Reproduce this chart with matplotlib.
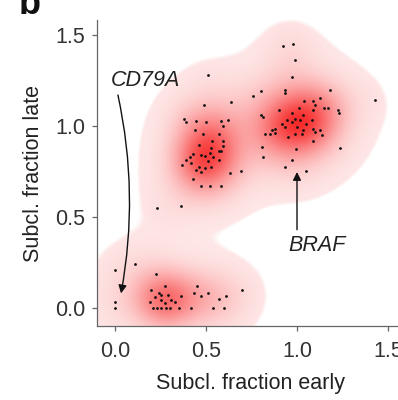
import numpy as np
import matplotlib
matplotlib.use("Agg")
import matplotlib.pyplot as plt

plt.rcParams['font.family'] = ['Liberation Sans', 'DejaVu Sans']

# Subclonal fractions of mutations: early sample (x) vs late sample (y)
early_low = [0.00, 0.11, 0.00, 0.00, 0.225, 0.20, 0.24, 0.275, 0.255, 0.29, 0.22, 0.25,
             0.275, 0.19, 0.31, 0.36, 0.33, 0.21, 0.23, 0.255, 0.28, 0.30, 0.35, 0.42,
             0.54, 0.60, 0.45, 0.435, 0.47, 0.51, 0.57, 0.61, 0.70, 0.23, 0.36]
late_low = [0.21, 0.24, 0.035, 0.00, 0.185, 0.10, 0.085, 0.12, 0.07, 0.07, 0.06, 0.045,
            0.03, 0.035, 0.045, 0.065, 0.035, 0.00, 0.00, 0.00, 0.00, 0.00, 0.00, 0.00,
            0.00, 0.00, 0.12, 0.085, 0.065, 0.085, 0.05, 0.065, 0.10, 0.55, 0.56]

early_mid = [0.51, 0.49, 0.64, 0.38, 0.39, 0.445, 0.50, 0.585, 0.62, 0.595, 0.44, 0.485,
             0.57, 0.535, 0.595, 0.46, 0.595, 0.53, 0.57, 0.585, 0.43, 0.47, 0.495, 0.52,
             0.54, 0.41, 0.39, 0.51, 0.57, 0.37, 0.42, 0.46, 0.445, 0.495, 0.53, 0.475,
             0.63, 0.69, 0.43, 0.47, 0.52, 0.585]
late_mid = [1.28, 1.115, 1.13, 1.04, 1.02, 1.025, 1.02, 1.025, 1.03, 1.00, 0.98, 0.955,
            0.955, 0.92, 0.92, 0.895, 0.89, 0.88, 0.865, 0.86, 0.845, 0.84, 0.835, 0.85,
            0.83, 0.83, 0.815, 0.81, 0.815, 0.785, 0.795, 0.775, 0.76, 0.77, 0.775, 0.745,
            0.74, 0.75, 0.71, 0.67, 0.67, 0.67]

early_high = [0.925, 0.98, 0.99, 0.975, 0.935, 0.935, 1.18, 0.80, 0.76, 1.43, 1.125, 1.09,
              1.04, 1.10, 1.15, 1.17, 1.225, 1.23, 1.01, 0.90, 1.09, 0.97, 1.035, 0.80,
              0.815, 0.99, 0.945, 1.015, 1.08, 0.97, 0.915, 1.05, 0.935, 1.00, 0.88, 1.09,
              1.035, 1.125, 0.86, 0.825, 0.85, 0.88, 0.99, 1.03, 1.10, 1.14, 0.95, 1.09,
              0.805, 1.235, 0.995, 0.815, 0.97, 0.935, 1.05]
late_high = [1.44, 1.45, 1.36, 1.27, 1.20, 1.18, 1.20, 1.19, 1.165, 1.145, 1.155, 1.135,
             1.135, 1.115, 1.10, 1.10, 1.085, 1.07, 1.10, 1.085, 1.085, 1.07, 1.06, 1.06,
             1.05, 1.04, 1.03, 1.03, 1.035, 1.02, 1.01, 1.01, 0.995, 0.995, 0.985, 0.985,
             0.98, 0.975, 0.98, 0.955, 0.955, 0.96, 0.955, 0.955, 0.965, 0.95, 0.94, 0.92,
             0.885, 0.88, 0.875, 0.83, 0.815, 0.775, 0.75]

x_ticks = [0.0, 0.5, 1.0, 1.5]
y_ticks = [0.0, 0.5, 1.0, 1.5]
x_label = "Subcl. fraction early"
y_label = "Subcl. fraction late"
panel_tag = "b"

early = np.array(early_low + early_mid + early_high)
late = np.array(late_low + late_mid + late_high)

xlim = (-0.099, 1.599)
ylim = (-0.099, 1.582)

fig = plt.figure(figsize=(3.98, 4.0), dpi=100)
ax = fig.add_axes([97 / 398, 74 / 400, 309 / 398, 306 / 400])

# 2D Gaussian kernel density of the mutations on a regular grid
gx = np.linspace(*xlim, 360)
gy = np.linspace(*ylim, 360)
GX, GY = np.meshgrid(gx, gy)


def kde(h):
    out = np.zeros_like(GX)
    for xi, yi in zip(early, late):
        out += np.exp(-((GX - xi) ** 2 + (GY - yi) ** 2) / (2 * h ** 2))
    return out / out.max()


envelope = kde(0.14)
core = kde(0.11)

base_alpha = 0.1
edge = np.clip((envelope - 0.05) / 0.012, 0, 1)
core_alpha = np.clip(core, 0, 1) ** 1.25
opacity = base_alpha * edge + (1 - base_alpha * edge) * 0.9 * core_alpha * edge

rgba = np.zeros(GX.shape + (4,))
rgba[..., 0] = 0.97
rgba[..., 1] = 0.08
rgba[..., 2] = 0.08
rgba[..., 3] = opacity
ax.imshow(rgba, extent=(xlim[0], xlim[1], ylim[0], ylim[1]), origin='lower',
          aspect='auto', interpolation='bilinear', zorder=0)

ax.scatter(early, late, s=4, c='#111111', linewidths=0, zorder=3)

# gene call-outs
ax.text(0.165, 1.25, "CD79A", style='italic', fontsize=15.5, color='#222222',
        ha='center', va='center', zorder=4)
ax.annotate("", xy=(0.033, 0.08), xytext=(0.016, 1.17),
            arrowprops=dict(arrowstyle='-|>', color='#111111', lw=1.0,
                            mutation_scale=12, shrinkA=0, shrinkB=0,
                            connectionstyle='arc3,rad=-0.1'), zorder=4)
ax.text(1.11, 0.345, "BRAF", style='italic', fontsize=15.5, color='#222222',
        ha='center', va='center', zorder=4)
ax.annotate("", xy=(1.0, 0.747), xytext=(1.0, 0.43),
            arrowprops=dict(arrowstyle='-|>', color='#111111', lw=1.0,
                            mutation_scale=12, shrinkA=0, shrinkB=0), zorder=4)

ax.set_xlim(*xlim)
ax.set_ylim(*ylim)
ax.set_xticks(x_ticks)
ax.set_yticks(y_ticks)
ax.set_xticklabels([f"{v:.1f}" for v in x_ticks])
ax.set_yticklabels([f"{v:.1f}" for v in y_ticks])
ax.set_facecolor('white')

for side in ('top', 'right'):
    ax.spines[side].set_visible(False)
for side in ('left', 'bottom'):
    ax.spines[side].set_color('#666666')
    ax.spines[side].set_linewidth(0.9)

ax.tick_params(axis='both', direction='out', length=3.5, width=0.9, color='#666666',
               labelsize=15.5, labelcolor='#333333')
ax.tick_params(axis='x', pad=7)
ax.tick_params(axis='y', pad=5)

ax.set_xlabel(x_label, fontsize=15.5, color='#222222')
ax.set_ylabel(y_label, fontsize=15.5, color='#222222')
ax.xaxis.set_label_coords((250 - 97) / 309, -0.155)
ax.yaxis.set_label_coords((44 - 97) / 309, 0.5)

# panel tag, partly above the top edge
fig.text(19 / 398, 1 - 14 / 400, panel_tag, fontsize=26, fontweight='bold',
         ha='left', va='baseline', color='#111111')

fig.savefig("out.png", dpi=100)
